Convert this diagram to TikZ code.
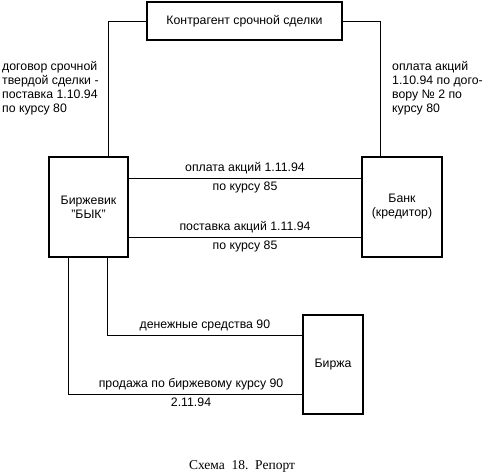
\documentclass[tikz,border=0pt]{standalone}
\usepackage{fontspec}
\setmainfont{Liberation Sans}
\newfontfamily\capserif{Liberation Serif}

\tikzset{
  partybox/.style={draw, line width=1.3pt, inner sep=0pt, align=center},
  flow/.style={line width=0.7pt},
  sidenote/.style={anchor=north west, inner sep=0pt, align=left},
}

\begin{document}
\begin{tikzpicture}[x=1pt, y=-1pt, font=\fontsize{12.3}{14}\selectfont]
            \useasboundingbox (0,0) rectangle (492,475);

            % parties
            \node[partybox, minimum width=195pt, minimum height=38pt] (kontr) at (244.5,21) {Контрагент срочной сделки};
            \node[partybox, minimum width=79pt, minimum height=100pt] (byk) at (88.5,207) {Биржевик\\"БЫК"};
            \node[partybox, minimum width=80pt, minimum height=100pt] (bank) at (402,207) {Банк\\(кредитор)};
            \node[partybox, minimum width=60pt, minimum height=99pt] (birzha) at (333,364.5) {Биржа};

            \draw[flow] (kontr.west) -| ([xshift=19.5pt]byk.north); % kontr-byk
            \draw[flow] (kontr.east) -| ([xshift=-22pt]bank.north); % kontr-bank
            \node[sidenote] (dogovor) at (2,61) {договор срочной\\твердой сделки -\\поставка 1.10.94\\по курсу 80};
            \node[sidenote] (oplata) at (392,61) {оплата акций\\1.10.94 по дого-\\вору № 2 по\\курсу 80};

            \draw[flow] ([yshift=29pt]byk.east) -- node[above] {оплата акций 1.11.94} node[below] {по курсу 85} ([yshift=29pt]bank.west); % byk-bank
            \draw[flow] ([yshift=-30pt]byk.east) -- node[above] {поставка акций 1.11.94} node[below] {по курсу 85} ([yshift=-30pt]bank.west); % byk-bank

            \draw[flow] ([xshift=19pt]byk.south) |- node[pos=0.75, above] {денежные средства 90} ([yshift=29.5pt]birzha.west); % byk-birzha
            \draw[flow] ([xshift=-20.5pt]byk.south) |- node[pos=0.7625, above] {продажа по биржевому курсу 90} node[pos=0.7625, below] {2.11.94} ([yshift=-29.5pt]birzha.west); % byk-birzha

            \node[font=\capserif\fontsize{13.5}{16}\selectfont] (caption) at (242,466) {Схема\ \ 18.\ \ Репорт};
\end{tikzpicture}
\end{document}
